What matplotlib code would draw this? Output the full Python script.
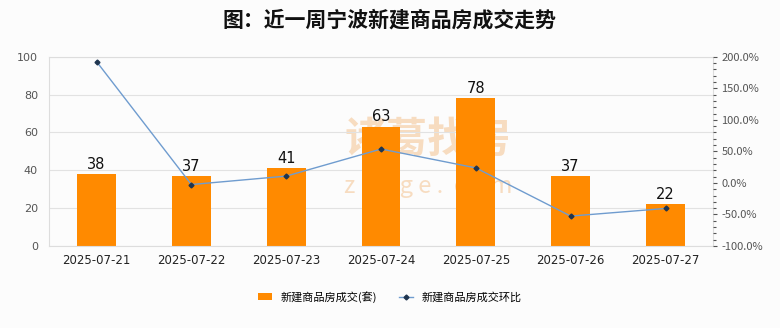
import matplotlib.pyplot as plt
from matplotlib.ticker import MultipleLocator, FuncFormatter

plt.rcParams['font.family'] = ['Noto Sans CJK SC', 'DejaVu Sans']

dates = ['2025-07-21', '2025-07-22', '2025-07-23', '2025-07-24', '2025-07-25', '2025-07-26', '2025-07-27']
deals = [38, 37, 41, 63, 78, 37, 22]
change_pct = [192.3, -2.6, 10.8, 53.7, 23.8, -52.6, -40.5]

fig = plt.figure(figsize=(7.8, 3.28), dpi=100)
fig.patch.set_facecolor('#fcfcfc')
ax = fig.add_axes([0.063, 0.25, 0.851, 0.577])
ax.set_facecolor('#fcfcfc')

x = range(len(dates))
bars = ax.bar(x, deals, width=0.41, color='#ff8a00', zorder=2, label='新建商品房成交(套)')
for i, v in enumerate(deals):
    ax.text(i, v + 1.2, str(v), ha='center', va='bottom', fontsize=10.5,
            family=['DejaVu Sans'], color='#111111', zorder=5)

ax.set_ylim(0, 100)
ax.set_xlim(-0.5, len(dates) - 0.5)
ax.yaxis.set_major_locator(MultipleLocator(20))
ax.set_xticks(list(x))
ax.set_xticklabels(dates, fontsize=8.5, family=['DejaVu Sans'], color='#222222')
ax.tick_params(axis='y', labelsize=8, colors='#555555', length=0, pad=8)
ax.tick_params(axis='x', length=0, pad=6)
for lab in ax.get_yticklabels():
    lab.set_family(['DejaVu Sans'])
ax.grid(axis='y', color='#e2e2e2', linewidth=0.8, zorder=0)
for s in ax.spines.values():
    s.set_color('#dddddd')
    s.set_linewidth(0.8)

# watermark behind the bars
ax.text(0.549, 0.573, '诸葛找房', transform=fig.transFigure, fontsize=30, color='#f7dcc0',
        ha='center', va='center', weight='bold', zorder=1)
ax.text(0.549, 0.43, 'z h u g e .  c o m', transform=fig.transFigure, fontsize=17,
        color='#f7dcc0', ha='center', va='center', zorder=1)

ax2 = ax.twinx()
ax2.plot(list(x), change_pct, color='#6f9ccf', linewidth=1, marker='D', markersize=2.5,
         markerfacecolor='#1f3550', markeredgecolor='#1f3550', zorder=4, label='新建商品房成交环比')
ax2.set_ylim(-100, 200)
ax2.yaxis.set_major_locator(MultipleLocator(50))
ax2.yaxis.set_minor_locator(MultipleLocator(10))
ax2.yaxis.set_major_formatter(FuncFormatter(lambda v, p: f'{v:.1f}%'))
ax2.tick_params(axis='y', which='major', labelsize=8, colors='#555555', length=3, width=0.8, pad=3)
ax2.tick_params(axis='y', which='minor', length=2, width=0.8, color='#555555')
for s in ax2.spines.values():
    s.set_visible(False)

h1, l1 = ax.get_legend_handles_labels()
h2, l2 = ax2.get_legend_handles_labels()
fig.legend(h1 + h2, l1 + l2, loc='center', bbox_to_anchor=(0.5, 0.095), ncol=2,
           frameon=False, fontsize=8, handlelength=1.2, handleheight=0.6,
           columnspacing=2.0, handletextpad=0.8)

fig.text(0.5, 0.94, '图：近一周宁波新建商品房成交走势', ha='center', va='center',
         fontsize=15, color='#111111', weight='bold')

fig.savefig('out.png', dpi=100, facecolor=fig.get_facecolor())
